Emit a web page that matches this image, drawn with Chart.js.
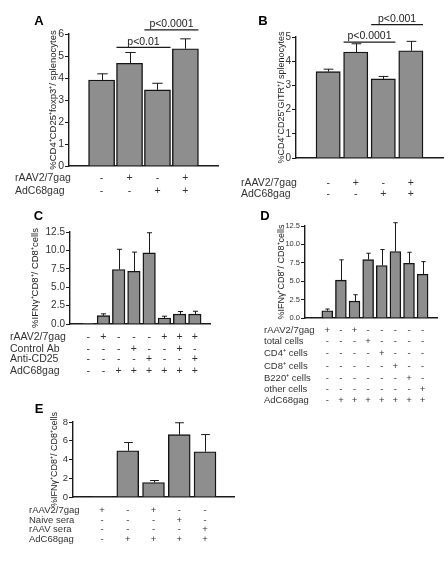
<!DOCTYPE html>
<html lang="en">
<head>
<meta charset="UTF-8" />
<title>Treg panels</title>
<script src="https://cdn.jsdelivr.net/npm/chart.js"></script>
<style>
  body { margin: 0; background: #fff; }
  #wrap { position: relative; width: 448px; height: 566px; overflow: hidden; }
  canvas { position: absolute; }
</style>
</head>
<body>
<div id="wrap">
  <canvas id="chartA" width="224" height="200" style="left:0;top:0"></canvas>
  <canvas id="chartB" width="224" height="200" style="left:224px;top:0"></canvas>
  <canvas id="chartC" width="224" height="200" style="left:0;top:200px"></canvas>
  <canvas id="chartD" width="224" height="210" style="left:224px;top:200px"></canvas>
  <canvas id="chartE" width="250" height="166" style="left:0;top:400px"></canvas>
</div>
<script>
// ---- data ----
// A
const rowsA = ["rAAV2/7gag", "AdC68gag"];
const signsA = [["-", "+", "-", "+"], ["-", "-", "+", "+"]];
const meanA = [3.91, 4.67, 3.46, 5.33];
const errA = [0.28, 0.49, 0.3, 0.45];
const pairsA = [[1, 2], [2, 3]];
const sigYA = [5.39, 6.19];
const sigTextA = ["p<0.01", "p<0.0001"];
const ticksA = [0, 1, 2, 3, 4, 5, 6];

// B
const rowsB = ["rAAV2/7gag", "AdC68gag"];
const signsB = [["-", "+", "-", "+"], ["-", "-", "+", "+"]];
const meanB = [3.57, 4.38, 3.27, 4.43];
const errB = [0.1, 0.34, 0.1, 0.39];
const pairsB = [[1, 2], [2, 3]];
const sigYB = [4.79, 5.51];
const sigTextB = ["p<0.0001", "p<0.001"];
const ticksB = [0, 1, 2, 3, 4, 5];

// C
const rowsC = ["rAAV2/7gag", "Control Ab", "Anti-CD25", "AdC68gag"];
const signsC = [
  ["-", "+", "-", "-", "-", "+", "+", "+"],
  ["-", "-", "-", "+", "-", "-", "+", "-"],
  ["-", "-", "-", "-", "+", "-", "-", "+"],
  ["-", "-", "+", "+", "+", "+", "+", "+"]
];
const meanC = [0.05, 1.13, 7.4, 7.17, 9.66, 0.81, 1.35, 1.35];
const errC = [0, 0.25, 2.75, 2.6, 2.74, 0.25, 0.35, 0.38];
const ticksC = [0, 2.5, 5, 7.5, 10, 12.5];

// D
const rowsD = ["rAAV2/7gag", "total cells", "CD4\u207A cells", "CD8\u207A cells", "B220\u207A cells", "other cells", "AdC68gag"];
const signsD = [
  ["+", "-", "+", "-", "-", "-", "-", "-"],
  ["-", "-", "-", "+", "-", "-", "-", "-"],
  ["-", "-", "-", "-", "+", "-", "-", "-"],
  ["-", "-", "-", "-", "-", "+", "-", "-"],
  ["-", "-", "-", "-", "-", "-", "+", "-"],
  ["-", "-", "-", "-", "-", "-", "-", "+"],
  ["-", "+", "+", "+", "+", "+", "+", "+"]
];
const meanD = [0.99, 5.14, 2.3, 7.94, 7.13, 9.03, 7.44, 5.95];
const errD = [0.23, 2.76, 0.86, 0.86, 2.17, 3.92, 1.49, 1.71];
const ticksD = [0, 2.5, 5, 7.5, 10, 12.5];

// E
const rowsE = ["rAAV2/7gag", "Naive sera", "rAAV sera", "AdC68gag"];
const signsE = [
  ["+", "-", "+", "-", "-"],
  ["-", "-", "-", "+", "-"],
  ["-", "-", "-", "-", "+"],
  ["-", "+", "+", "+", "+"]
];
const meanE = [0.05, 4.93, 1.55, 6.65, 4.83];
const errE = [0, 0.88, 0.21, 1.27, 1.83];
const ticksE = [0, 2, 4, 6, 8];

// ---- drawing ----
const FAMILY = 'Arial, "Liberation Sans", sans-serif';
const INK = "#1a1a1a";

function overlay(p) {
  return {
    id: "overlay" + p.letter,
    afterDraw(chart) {
      const ctx = chart.ctx;
      const y = chart.scales.y;
      const bars = chart.getDatasetMeta(0).data;
      ctx.save();
      ctx.strokeStyle = INK;
      ctx.lineWidth = 1;

      // upper error bars
      p.err.forEach((e, i) => {
        if (!e) return;
        const b = bars[i];
        const top = y.getPixelForValue(p.mean[i] + e);
        const cx = Math.round(b.x) + 0.5;
        const cap = b.width * 0.2;
        ctx.beginPath();
        ctx.moveTo(cx, b.y);
        ctx.lineTo(cx, top);
        ctx.moveTo(cx - cap, top);
        ctx.lineTo(cx + cap, top);
        ctx.stroke();
      });

      // significance lines
      ctx.fillStyle = "#222";
      ctx.font = "10.5px " + FAMILY;
      ctx.textAlign = "center";
      ctx.textBaseline = "bottom";
      (p.pairs || []).forEach((pr, k) => {
        const b1 = bars[pr[0]], b2 = bars[pr[1]];
        const x1 = b1.x - b1.width / 2, x2 = b2.x + b2.width / 2;
        const yy = y.getPixelForValue(p.sigY[k]);
        ctx.lineWidth = 1.3;
        ctx.beginPath();
        ctx.moveTo(x1, yy);
        ctx.lineTo(x2, yy);
        ctx.stroke();
        ctx.fillText(p.sigText[k], (x1 + x2) / 2, yy - 0.5);
      });

      // treatment table
      ctx.fillStyle = "#333";
      ctx.font = p.tableFont + "px " + FAMILY;
      ctx.textBaseline = "middle";
      p.rows.forEach((label, r) => {
        const ry = p.rowY[r];
        ctx.textAlign = "left";
        ctx.fillText(label, p.rowX, ry);
        ctx.textAlign = "center";
        p.signs[r].forEach((s, i) => ctx.fillText(s, bars[i].x, ry));
      });

      // panel letter
      ctx.fillStyle = "#000";
      ctx.font = "bold 13px " + FAMILY;
      ctx.textAlign = "center";
      ctx.fillText(p.letter, p.letterX, p.letterY);
      ctx.restore();
    }
  };
}

function makePanel(p) {
  const canvas = document.getElementById(p.id);
  const W = canvas.width, H = canvas.height;
  const idx = p.mean.map((_, i) => i);
  const step = (p.area.right - p.area.left) / (p.xMax - p.xMin);
  return new Chart(canvas, {
    type: "bar",
    data: {
      labels: idx,
      datasets: [{
        data: p.mean,
        backgroundColor: "#8e8e8e",
        borderColor: "#141414",
        borderWidth: 1.4,
        borderSkipped: "start",
        barThickness: step * p.barPct
      }]
    },
    options: {
      responsive: false,
      animation: false,
      layout: { padding: { left: 0, top: p.area.top, right: W - p.area.right, bottom: H - p.area.bottom } },
      plugins: { legend: { display: false }, tooltip: { enabled: false } },
      scales: {
        x: {
          type: "linear",
          min: p.xMin,
          max: p.xMax,
          afterBuildTicks(s) { s.ticks = idx.map(v => ({ value: v })); },
          ticks: { display: false },
          grid: { display: false },
          border: { display: true, color: INK, width: 1.4 },
          afterFit(s) { s.height = 0; }
        },
        y: {
          min: 0,
          max: p.ticks[p.ticks.length - 1],
          afterBuildTicks(s) { s.ticks = p.ticks.map(v => ({ value: v })); },
          ticks: {
            font: { size: p.tickFont, family: FAMILY },
            color: "#333",
            padding: 1,
            callback: v => v.toFixed(p.decimals)
          },
          grid: { drawOnChartArea: false, drawTicks: true, tickLength: 4, color: INK, lineWidth: 1 },
          border: { color: INK, width: 1.4 },
          title: {
            display: true,
            text: p.title,
            color: "#222",
            font: { size: p.titleFont, family: FAMILY, lineHeight: 1.2 },
            padding: { top: p.titleX - p.titleFont * 0.6, bottom: 0 }
          },
          afterFit(s) { s.width = p.area.left; }
        }
      }
    },
    plugins: [overlay(p)]
  });
}

const IFN = "%IFN\u03B3\u207ACD8\u207A/ CD8\u207Acells";

makePanel({
  id: "chartA", letter: "A", letterX: 39, letterY: 21.5,
  mean: meanA, err: errA, pairs: pairsA, sigY: sigYA, sigText: sigTextA,
  ticks: ticksA, decimals: 0, tickFont: 10.5,
  rows: rowsA, signs: signsA, rowX: 15, rowY: [178, 191], tableFont: 10.5,
  title: "%CD4\u207ACD25\u207Afoxp3\u207A/ splenocytes", titleX: 53, titleFont: 9.5,
  area: { left: 69, right: 218, top: 34, bottom: 166 }, xMin: -0.5, xMax: 3.5, barPct: 0.7
});

makePanel({
  id: "chartB", letter: "B", letterX: 39, letterY: 21.5,
  mean: meanB, err: errB, pairs: pairsB, sigY: sigYB, sigText: sigTextB,
  ticks: ticksB, decimals: 0, tickFont: 10,
  rows: rowsB, signs: signsB, rowX: 17, rowY: [183, 194], tableFont: 10.5,
  title: "%CD4\u207ACD25\u207AGITR\u207A/ splenocytes", titleX: 58, titleFont: 9,
  area: { left: 72, right: 219, top: 37, bottom: 158 }, xMin: -0.5, xMax: 3.5, barPct: 0.66
});

makePanel({
  id: "chartC", letter: "C", letterX: 38.5, letterY: 16,
  mean: meanC, err: errC,
  ticks: ticksC, decimals: 1, tickFont: 10,
  rows: rowsC, signs: signsC, rowX: 10, rowY: [137, 149, 159, 171], tableFont: 10.5,
  title: IFN, titleX: 35, titleFont: 9.5,
  area: { left: 70, right: 210, top: 32, bottom: 124 }, xMin: -0.62, xMax: 7.42, barPct: 0.72
});

makePanel({
  id: "chartD", letter: "D", letterX: 41, letterY: 16,
  mean: meanD, err: errD,
  ticks: ticksD, decimals: 1, tickFont: 7.5,
  rows: rowsD, signs: signsD, rowX: 40, rowY: [130, 141, 153, 166, 178, 189, 200], tableFont: 9.5,
  title: IFN, titleX: 58, titleFont: 9,
  area: { left: 81, right: 213, top: 26, bottom: 118 }, xMin: -1.03, xMax: 7.45, barPct: 0.7
});

makePanel({
  id: "chartE", letter: "E", letterX: 39, letterY: 9.5,
  mean: meanE, err: errE,
  ticks: ticksE, decimals: 0, tickFont: 9.5,
  rows: rowsE, signs: signsE, rowX: 29, rowY: [110, 120, 129, 139], tableFont: 9.5,
  title: IFN, titleX: 55, titleFont: 9,
  area: { left: 73, right: 234, top: 22, bottom: 97 }, xMin: -0.5, xMax: 4.5, barPct: 0.68
});
</script>
</body>
</html>
